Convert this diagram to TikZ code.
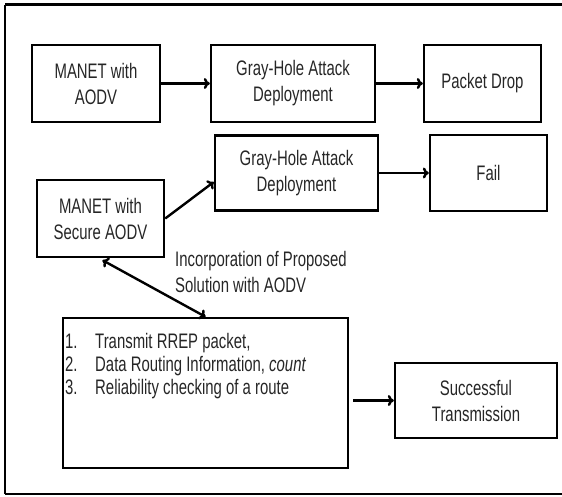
\documentclass[tikz,border=0pt]{standalone}
\usepackage{fontspec}
\setmainfont[FakeStretch=0.71]{Liberation Sans}
\usetikzlibrary{arrows.meta}

\begin{document}
\begin{tikzpicture}[x=1pt,y=-1pt,
  txt/.style={font=\fontsize{21}{26}\selectfont, text=black!85},
  box/.style={txt, draw=black, line width=2.4pt, align=center, inner sep=0pt},
  tip/.tip={To[length=6pt,width=11pt]},
  arr/.style={line width=2.4pt, -tip},
  dblarr/.style={line width=2.4pt, tip-tip},
]
\useasboundingbox (0,0) rectangle (562,497);

% outer frame, open on the right
\draw[line width=3pt] (562,5) -- (5,5);
\draw[line width=2pt] (5,5) -- (5,494);
\draw[line width=2pt] (5,494) -- (562,494);

% first row: plain AODV under attack
\node[box, minimum width=128pt, minimum height=77pt] (aodv) at (96,83.5) {MANET with\\AODV};
\node[box, minimum width=164pt, minimum height=77pt] (gh1) at (293,83.5) {Gray-Hole Attack\\Deployment};
\node[box, minimum width=117pt, minimum height=77pt] (drop) at (482.5,83.5) {Packet Drop};

% second row: secure AODV under attack
\node[box, minimum width=127pt, minimum height=77pt] (saodv) at (100.5,218.5) {MANET with\\Secure AODV};
\node[box, minimum width=163pt, minimum height=75pt] (gh2) at (296.5,173) {Gray-Hole Attack\\Deployment};
\node[box, minimum width=117pt, minimum height=76pt] (fail) at (488.5,173) {Fail};

% proposed solution
\node[box, minimum width=285pt, minimum height=150pt] (sol) at (205.5,393) {};
\node[txt, anchor=north west, align=left, inner sep=0pt] (steps) at (65,333) {%
  \makebox[30pt][l]{1.}Transmit RREP packet,\\[-3pt]
  \makebox[30pt][l]{2.}Data Routing Information, \textit{count}\\[-3pt]
  \makebox[30pt][l]{3.}Reliability checking of a route};
\node[box, minimum width=162pt, minimum height=75pt] (succ) at (476,400.5) {Successful\\Transmission};

\node[txt, anchor=west, align=left, inner sep=0pt] (incorp) at (175,272)
  {Incorporation of Proposed\\Solution with AODV};

% connectors
\draw[arr] (aodv.east) -- (gh1.west);
\draw[arr] (gh1.east) -- (drop.west);
\draw[arr] (saodv.east) -- ([yshift=-9pt]gh2.west);
\draw[arr] (gh2.east) -- (gh2.east -| fail.west);
\draw[dblarr] ([xshift=2pt,yshift=-2pt]saodv.south) -- (sol.north);
\draw[arr] ([xshift=4pt]succ.west -| sol.east) -- (succ.west);
\end{tikzpicture}
\end{document}
